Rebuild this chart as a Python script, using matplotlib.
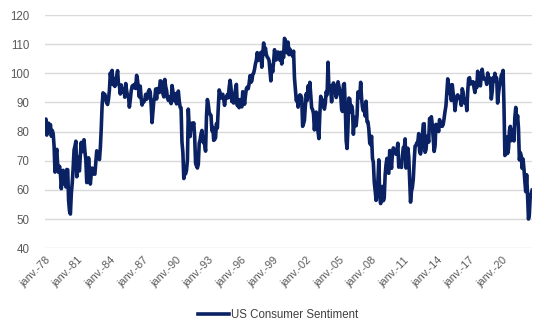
import matplotlib
matplotlib.use("Agg")
import matplotlib.pyplot as plt
import pandas as pd

plt.rcParams["font.family"] = ["Liberation Sans", "DejaVu Sans"]

# University of Michigan consumer sentiment, monthly from Jan 1978
start_month = "1978-01"
sentiment = [
    83.7, 84.3, 78.8, 81.6, 82.9, 80.0, 82.4, 78.4, 80.4, 79.3, 75.0, 66.1,
    72.1, 73.9, 68.4, 66.0, 68.1, 65.8, 60.4, 64.5, 66.7, 62.1, 63.3, 61.0,
    67.0, 66.9, 56.5, 52.7, 51.7, 58.7, 62.3, 67.4, 73.7, 75.0, 76.7, 64.5,
    71.4, 66.9, 66.5, 72.4, 76.3, 73.1, 74.1, 77.2, 73.1, 70.3, 62.5, 64.3,
    71.0, 66.5, 62.0, 65.5, 67.5, 65.7, 65.4, 65.4, 69.3, 73.4, 72.1, 71.9,
    70.4, 74.6, 80.8, 89.1, 93.3, 92.2, 92.8, 90.9, 89.9, 89.3, 91.1, 94.2,
    100.1, 97.4, 101.0, 96.1, 98.1, 95.5, 96.6, 99.1, 100.9, 96.3, 95.7, 92.9,
    96.0, 93.7, 93.7, 94.6, 91.8, 96.5, 94.0, 92.4, 92.1, 88.4, 90.9, 93.9,
    95.6, 95.9, 95.1, 96.2, 94.8, 99.3, 97.7, 94.9, 91.9, 95.6, 91.4, 89.1,
    90.4, 90.2, 90.8, 92.8, 91.1, 91.5, 93.7, 94.4, 93.6, 89.3, 83.1, 86.8,
    90.8, 91.6, 94.6, 91.2, 94.8, 94.7, 93.4, 97.4, 97.3, 94.1, 93.0, 91.9,
    97.9, 95.4, 94.3, 91.5, 90.7, 90.6, 92.0, 89.6, 95.8, 93.9, 90.9, 90.5,
    93.0, 89.5, 91.3, 93.9, 90.6, 88.3, 88.2, 76.4, 72.8, 63.9, 66.0, 65.5,
    66.8, 70.4, 87.7, 81.8, 78.3, 82.1, 82.9, 82.0, 83.0, 78.3, 69.1, 68.2,
    67.5, 68.8, 76.0, 77.2, 79.2, 80.4, 76.6, 76.1, 75.6, 73.3, 85.3, 91.0,
    89.3, 86.6, 85.9, 85.6, 80.3, 81.5, 77.0, 77.3, 77.9, 82.7, 81.2, 88.2,
    94.3, 93.2, 91.5, 92.6, 92.8, 91.2, 89.0, 91.7, 91.5, 92.7, 91.6, 95.1,
    97.6, 95.1, 90.3, 92.5, 89.8, 92.7, 94.4, 96.2, 88.9, 90.2, 88.2, 91.0,
    89.3, 88.5, 93.7, 92.7, 89.4, 92.4, 94.7, 95.3, 94.7, 96.5, 99.2, 96.9,
    97.4, 99.7, 100.0, 101.4, 103.2, 104.5, 107.1, 104.4, 106.0, 105.6, 107.2, 102.1,
    106.6, 110.4, 106.5, 108.7, 106.5, 105.6, 105.2, 104.4, 100.9, 97.4, 102.7, 100.5,
    103.9, 108.1, 105.7, 104.6, 106.8, 107.3, 106.0, 104.5, 107.2, 103.2, 107.2, 105.4,
    112.0, 111.3, 107.1, 109.2, 110.7, 106.4, 108.3, 107.3, 106.8, 105.8, 107.6, 98.4,
    94.7, 90.6, 91.5, 88.4, 92.0, 92.6, 92.4, 91.5, 81.8, 82.7, 83.9, 88.8,
    93.0, 90.7, 95.7, 93.0, 96.9, 92.4, 88.1, 87.6, 86.1, 80.6, 84.2, 86.7,
    82.4, 79.9, 77.6, 86.0, 92.1, 89.7, 90.9, 89.3, 87.7, 89.6, 93.7, 92.6,
    103.8, 94.4, 95.8, 94.2, 90.2, 95.6, 96.7, 95.9, 94.2, 91.7, 92.8, 97.1,
    95.5, 94.1, 92.6, 87.7, 86.9, 96.0, 96.5, 89.1, 76.9, 74.2, 81.6, 91.5,
    91.2, 86.7, 88.9, 87.4, 79.1, 84.9, 84.7, 82.0, 85.4, 93.6, 92.1, 91.7,
    96.9, 91.3, 88.4, 87.1, 88.3, 85.3, 90.4, 83.4, 83.4, 80.9, 76.1, 75.5,
    78.4, 70.8, 69.5, 62.6, 59.8, 56.4, 61.2, 63.0, 70.3, 57.6, 55.3, 60.1,
    61.2, 56.3, 57.3, 65.1, 68.7, 70.8, 66.0, 65.7, 73.5, 70.6, 67.4, 72.5,
    74.4, 73.6, 73.6, 72.2, 73.6, 76.0, 67.8, 68.9, 68.2, 67.7, 71.6, 74.5,
    74.2, 77.5, 67.5, 69.8, 74.3, 71.5, 63.7, 55.8, 59.5, 60.8, 63.7, 69.9,
    75.0, 75.3, 76.2, 76.4, 79.3, 73.2, 72.3, 74.3, 78.3, 82.6, 82.7, 72.9,
    73.8, 77.6, 78.6, 76.4, 84.5, 84.1, 85.1, 82.1, 77.5, 73.2, 75.1, 82.5,
    81.2, 81.6, 80.0, 84.1, 81.9, 82.5, 81.8, 82.5, 84.6, 86.9, 88.8, 93.6,
    98.1, 95.4, 93.0, 95.9, 90.7, 96.1, 93.1, 91.9, 87.2, 90.0, 91.3, 92.6,
    92.0, 91.7, 91.0, 89.0, 94.7, 93.5, 90.0, 89.8, 91.2, 87.2, 93.8, 98.2,
    98.5, 96.3, 96.9, 97.0, 97.1, 95.0, 93.4, 96.8, 95.1, 100.7, 98.5, 95.9,
    95.7, 99.7, 101.4, 98.8, 98.0, 98.2, 97.9, 96.2, 100.1, 98.6, 97.5, 98.3,
    91.2, 93.8, 98.4, 97.2, 100.0, 98.2, 98.4, 89.8, 93.2, 95.5, 96.8, 99.3,
    99.8, 101.0, 89.1, 71.8, 72.3, 78.1, 72.5, 74.1, 80.4, 81.8, 76.9, 80.7,
    79.0, 76.8, 84.9, 88.3, 82.9, 85.5, 81.2, 70.3, 72.8, 71.7, 67.4, 70.6,
    67.2, 62.8, 59.4, 65.2, 58.4, 50.0, 51.5, 58.2, 58.6, 59.9,
]
tick_years = list(range(1978, 2021, 3))
tick_labels = [f"janv.-{y % 100:02d}" for y in tick_years]
y_ticks = list(range(40, 121, 10))

dates = pd.date_range(start_month, periods=len(sentiment), freq="MS")

fig = plt.figure(figsize=(5.56, 3.34), dpi=100)
ax = fig.add_axes([0.081, 0.257, 0.876, 0.698])

for y in y_ticks:
    ax.axhline(y, color="#d9d9d9", lw=1.0, zorder=1)

ax.plot(dates, sentiment, color="#0a2263", lw=2.6, zorder=3,
        solid_joinstyle="round", label="US Consumer Sentiment")

ax.set_xlim(dates[0], dates[-1])
ax.set_ylim(40, 120)
ax.set_yticks(y_ticks)
ax.set_xticks(pd.to_datetime([f"{y}-01-01" for y in tick_years]))
ax.set_xticklabels(tick_labels, rotation=45, ha="right",
                   rotation_mode="anchor")
ax.tick_params(axis="y", length=0, pad=11, labelsize=8.3, labelcolor="#595959")
ax.tick_params(axis="x", length=0, pad=5, labelsize=7.8, labelcolor="#595959")
for side in ax.spines.values():
    side.set_visible(False)

fig.legend(loc="center", bbox_to_anchor=(0.5, 0.057), frameon=False,
           handlelength=2.7, handletextpad=0.15, fontsize=8.3,
           labelcolor="#404040")

fig.savefig("out.png", dpi=100)
